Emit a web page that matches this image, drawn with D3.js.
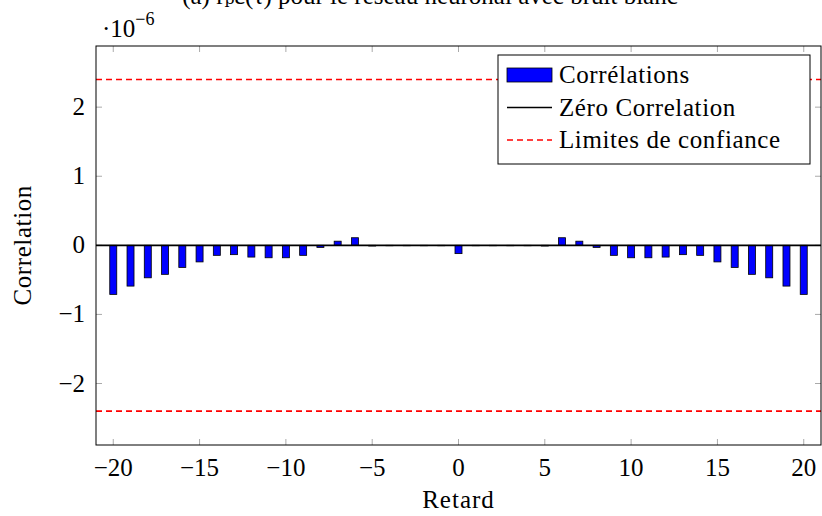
<!DOCTYPE html>
<html>
<head>
<meta charset="utf-8">
<script src="https://cdn.jsdelivr.net/npm/d3@7"></script>
<style>
body { margin: 0; background: #fff; }
text { font-family: "Liberation Serif", "DejaVu Serif", serif; }
</style>
</head>
<body>
<div id="chart"></div>
<script>
// lags and correlation values (x 1e-6)
let lags = d3.range(-20, 21);
let corrVals = [-0.71, -0.59, -0.47, -0.42, -0.32, -0.24, -0.145, -0.135, -0.17, -0.18,
                -0.18, -0.145, -0.03, 0.06, 0.11, -0.01, -0.006, -0.006, -0.006, -0.006,
                -0.12,
                -0.006, -0.006, -0.006, -0.006, -0.01, 0.11, 0.06, -0.03, -0.145, -0.18,
                -0.18, -0.17, -0.135, -0.145, -0.24, -0.32, -0.42, -0.47, -0.59, -0.71];
let confLimit = 2.4;
let xTicks = [-20, -15, -10, -5, 0, 5, 10, 15, 20];
let yTicks = [-2, -1, 0, 1, 2];
let legendLabels = ["Corrélations", "Zéro Correlation", "Limites de confiance"];

let W = 822, H = 516;
let margin = {left: 96, right: 1, top: 46, bottom: 71};
let fs = "25px";

let svg = d3.select("#chart").append("svg")
    .attr("width", W)
    .attr("height", H);

let x = d3.scaleLinear().domain([-21, 21]).range([margin.left, W - margin.right]);
let y = d3.scaleLinear().domain([-2.89, 2.885]).range([H - margin.bottom, margin.top]);

// title (cut off at the top of the picture, as in the original)
svg.append("text")
    .attr("x", 430).attr("y", 4)
    .attr("text-anchor", "middle")
    .style("font-size", fs)
    .text("(a) r\u209A\u03B5(\u03C4) pour le réseau neuronal avec bruit blanc");

// tick marks (inward, grey, mirrored)
let ticks = svg.append("g").attr("stroke", "#aaa").attr("stroke-width", 1);
xTicks.forEach(function(t) {
    ticks.append("line").attr("x1", x(t)).attr("x2", x(t))
        .attr("y1", y.range()[0]).attr("y2", y.range()[0] - 6);
    ticks.append("line").attr("x1", x(t)).attr("x2", x(t))
        .attr("y1", y.range()[1]).attr("y2", y.range()[1] + 6);
});
yTicks.forEach(function(t) {
    ticks.append("line").attr("x1", x.range()[0]).attr("x2", x.range()[0] + 6)
        .attr("y1", y(t)).attr("y2", y(t));
    ticks.append("line").attr("x1", x.range()[1]).attr("x2", x.range()[1] - 6)
        .attr("y1", y(t)).attr("y2", y(t));
});

// bars
let barW = 7;
svg.append("g").selectAll("rect")
    .data(lags)
    .enter()
    .append("rect")
    .attr("x", (d) => x(d) - barW / 2)
    .attr("y", (d, i) => y(Math.max(0, corrVals[i])))
    .attr("width", barW)
    .attr("height", (d, i) => Math.abs(y(corrVals[i]) - y(0)))
    .style("fill", "#0000ff")
    .style("stroke", "#000")
    .style("stroke-width", 0.8);

// zero line
svg.append("line")
    .attr("x1", x.range()[0]).attr("x2", x.range()[1])
    .attr("y1", y(0)).attr("y2", y(0))
    .style("stroke", "#000").style("stroke-width", 1.6);

// confidence limits
[confLimit, -confLimit].forEach(function(v) {
    svg.append("line")
        .attr("x1", x.range()[0]).attr("x2", x.range()[1])
        .attr("y1", y(v)).attr("y2", y(v))
        .style("stroke", "#ff0000").style("stroke-width", 1.6)
        .style("stroke-dasharray", "6,4");
});

// frame
svg.append("rect")
    .attr("x", x.range()[0]).attr("y", y.range()[1])
    .attr("width", x.range()[1] - x.range()[0])
    .attr("height", y.range()[0] - y.range()[1])
    .style("fill", "none").style("stroke", "#000").style("stroke-width", 1);

// tick labels
svg.append("g").selectAll("text")
    .data(xTicks).enter().append("text")
    .attr("x", (d) => x(d))
    .attr("y", y.range()[0] + 31)
    .attr("text-anchor", "middle")
    .style("font-size", fs)
    .text((d) => d < 0 ? "\u2212" + Math.abs(d) : d);

svg.append("g").selectAll("text")
    .data(yTicks).enter().append("text")
    .attr("x", x.range()[0] - 11)
    .attr("y", (d) => y(d) + 8)
    .attr("text-anchor", "end")
    .style("font-size", fs)
    .text((d) => d < 0 ? "\u2212" + Math.abs(d) : d);

// scale note
let sc = svg.append("text").attr("x", 102).attr("y", 37).style("font-size", fs);
sc.append("tspan").text("\u00B710");
sc.append("tspan").attr("dy", -12).style("font-size", "18px").text("\u22126");

// axis labels
svg.append("text")
    .attr("x", x(0)).attr("y", 508)
    .attr("text-anchor", "middle")
    .style("font-size", fs)
    .style("letter-spacing", "1px")
    .text("Retard");

svg.append("text")
    .attr("transform", "translate(31," + y(0) + ") rotate(-90)")
    .attr("text-anchor", "middle")
    .style("font-size", fs)
    .style("letter-spacing", "0.6px")
    .text("Correlation");

// legend
let leg = svg.append("g").attr("transform", "translate(498,55)");
leg.append("rect")
    .attr("width", 312).attr("height", 109)
    .style("fill", "#fff").style("stroke", "#000").style("stroke-width", 1);
legendLabels.forEach(function(lbl, i) {
    let cy = 20 + i * 32.5;
    if (i == 0) {
        leg.append("rect").attr("x", 9).attr("y", cy - 7).attr("width", 45).attr("height", 14)
            .style("fill", "#0000ff").style("stroke", "#000").style("stroke-width", 0.8);
    } else {
        leg.append("line").attr("x1", 9).attr("x2", 54).attr("y1", cy).attr("y2", cy)
            .style("stroke", i == 1 ? "#000" : "#ff0000")
            .style("stroke-width", 1.6)
            .style("stroke-dasharray", i == 2 ? "6,4" : null);
    }
    leg.append("text")
        .attr("x", 61).attr("y", cy + 8)
        .style("font-size", fs)
        .style("letter-spacing", "0.6px")
        .text(lbl);
});
</script>
</body>
</html>
